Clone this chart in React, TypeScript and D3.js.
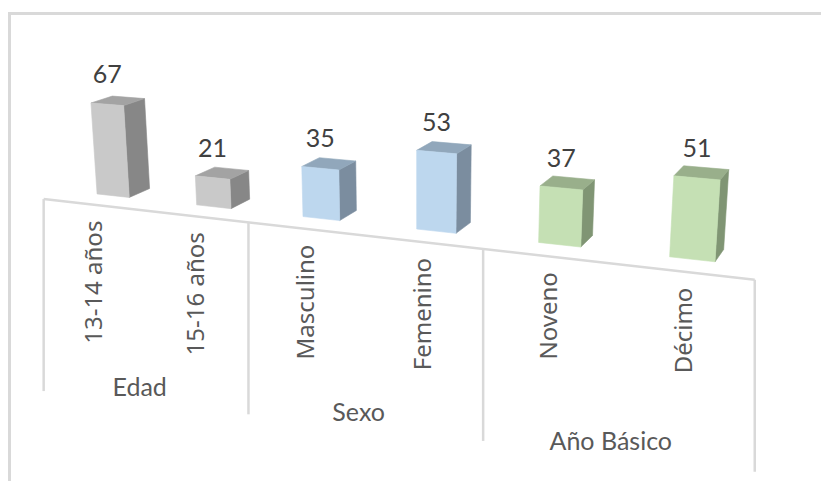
import React from "react";
import * as d3 from "d3";

const categories = ["13-14 años", "15-16 años", "Masculino", "Femenino", "Noveno", "Décimo"];
const values = [67, 21, 35, 53, 37, 51];
const groups = ["Edad", "Sexo", "Año Básico"];
const groupOf = [0, 0, 1, 1, 2, 2];

const W = 821;
const H = 481;

// face colours per group: front, side, top
const palette = [
  { front: "#c9c9c9", side: "#878787", top: "#a3a3a3" },
  { front: "#bdd7ee", side: "#7b8d9f", top: "#91a7bb" },
  { front: "#c5e0b4", side: "#809574", top: "#99af8b" },
];

// simple perspective camera (Excel-like 3D view)
const rad = Math.PI / 180;
const cam = {
  focal: 1455,
  cx: 347.5,
  cy: 252.7,
  pitch: 17.04 * rad,
  yaw: 65.3 * rad,
  roll: -0.0153,
  origin: [-205.9, -251.9, 957.0],
};
const ex = [Math.sin(cam.yaw), 0, -Math.cos(cam.yaw)];
const ez = [Math.cos(cam.yaw), 0, Math.sin(cam.yaw)];
const cosP = Math.cos(cam.pitch);
const sinP = Math.sin(cam.pitch);
const cosR = Math.cos(cam.roll);
const sinR = Math.sin(cam.roll);

function project(X: number, Y: number, Z: number): [number, number] {
  const r = cam.origin[0] + X * ex[0] + Z * ez[0];
  const u = cam.origin[1] + Y;
  const f = cam.origin[2] + X * ex[2] + Z * ez[2];
  const yc = u * cosP + f * sinP;
  const zc = f * cosP - u * sinP;
  const ix = (cam.focal * r) / zc;
  const iy = (-cam.focal * yc) / zc;
  return [cam.cx + ix * cosR - iy * sinR, cam.cy + ix * sinR + iy * cosR];
}

const x = d3
  .scaleBand<string>()
  .domain(categories)
  .range([0, 472.8])
  .paddingInner(0.67)
  .paddingOuter(0.335);
const y = d3.scaleLinear().domain([0, 70]).range([0, 70 * 0.946]);
const depth0 = 25;
const depth = x.bandwidth();

const line = d3.line<[number, number]>().curve(d3.curveLinearClosed);
const face = (pts: [number, number, number][]) =>
  line(pts.map((p) => project(p[0], p[1], p[2]))) as string;

const textColor = "#595959";

export default function App() {
  const step = x.step();
  const axisStart = project(0, 0, 0);
  const axisEnd = project(step * categories.length, 0, 0);
  const dividers = [0, 2, 4, 6].map((i) => project(step * i, 0, 0));

  return (
    <svg
      width={W}
      height={H}
      style={{ position: "absolute", left: 0, top: 0, background: "#fff" }}
    >
      <rect x={9.5} y={13.5} width={900} height={600} fill="#fff" stroke="#d9d9d9" strokeWidth={3} />

      {/* axis line and group dividers */}
      <line
        x1={axisStart[0]}
        y1={axisStart[1]}
        x2={axisEnd[0]}
        y2={axisEnd[1]}
        stroke="#d9d9d9"
        strokeWidth={2.5}
      />
      {dividers.map((p, i) => (
        <line key={i} x1={p[0]} y1={p[1]} x2={p[0]} y2={p[1] + 192} stroke="#d9d9d9" strokeWidth={2.5} />
      ))}

      {/* bars */}
      {categories.map((c, i) => {
        const x0 = x(c) as number;
        const x1 = x0 + x.bandwidth();
        const h = y(values[i]);
        const z0 = depth0;
        const z1 = depth0 + depth;
        const col = palette[groupOf[i]];
        const front = face([
          [x0, 0, z0],
          [x1, 0, z0],
          [x1, h, z0],
          [x0, h, z0],
        ]);
        const side = face([
          [x1, 0, z0],
          [x1, 0, z1],
          [x1, h, z1],
          [x1, h, z0],
        ]);
        const top = face([
          [x0, h, z0],
          [x1, h, z0],
          [x1, h, z1],
          [x0, h, z1],
        ]);
        const fl = project(x0, h, z0);
        const fr = project(x1, h, z0);
        return (
          <g key={c}>
            <path d={side} fill={col.side} stroke={col.side} strokeWidth={0.6} />
            <path d={top} fill={col.top} stroke={col.top} strokeWidth={0.6} />
            <path d={front} fill={col.front} stroke={col.front} strokeWidth={0.6} />
            <text
              x={(fl[0] + fr[0]) / 2}
              y={(fl[1] + fr[1]) / 2 - 21}
              textAnchor="middle"
              fontFamily="Lato, 'Open Sans', sans-serif"
              fontSize={25}
              fill="#404040"
            >
              {values[i]}
            </text>
          </g>
        );
      })}

      {/* category labels */}
      {categories.map((c) => {
        const p = project((x(c) as number) + x.bandwidth() / 2, 0, 0);
        return (
          <text
            key={c}
            transform={`translate(${p[0]},${p[1] + 16}) rotate(-90)`}
            textAnchor="end"
            dominantBaseline="central"
            fontFamily="'Noto Sans', 'Open Sans', sans-serif"
            fontSize={24}
            fill={textColor}
          >
            {c}
          </text>
        );
      })}

      {/* group labels */}
      {groups.map((g, gi) => {
        const p = project(step * (gi * 2 + 1), 0, 0);
        return (
          <text
            key={g}
            x={p[0] - 3}
            y={p[1] + 186}
            textAnchor="middle"
            fontFamily="Lato, 'Open Sans', sans-serif"
            fontSize={25}
            fill={textColor}
          >
            {g}
          </text>
        );
      })}
    </svg>
  );
}
